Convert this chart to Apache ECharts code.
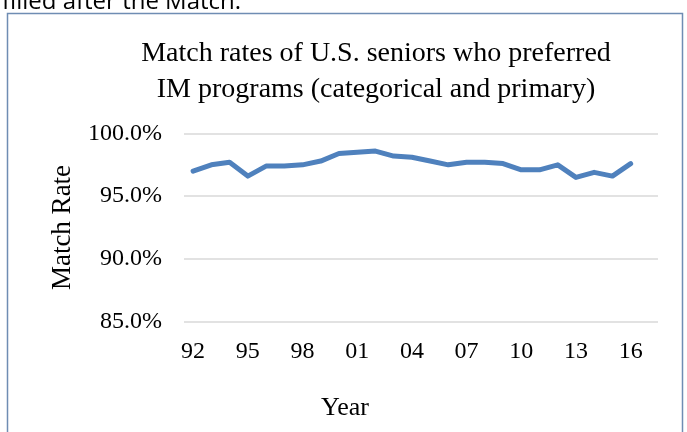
<!DOCTYPE html>
<html>
<head>
<meta charset="utf-8">
<script src="https://cdn.jsdelivr.net/npm/echarts@6/dist/echarts.min.js"></script>
<style>html,body{margin:0;padding:0;background:#fff;}#c{width:687px;height:432px;}</style>
</head>
<body>
<div id="c"></div>
<script>
const years = ['92','93','94','95','96','97','98','99','00','01','02','03','04','05','06','07','08','09','10','11','12','13','14','15','16','17'];
const matchRate = [97.0, 97.5, 97.7, 96.6, 97.4, 97.4, 97.5, 97.8, 98.4, 98.5, 98.6, 98.2, 98.1, 97.8, 97.5, 97.7, 97.7, 97.6, 97.1, 97.1, 97.5, 96.5, 96.9, 96.6, 97.6];
const yTicks = [85, 90, 95, 100];
const titleText = 'Match rates of U.S. seniors who preferred\nIM programs (categorical and primary)';

const serif = '"Liberation Serif", "Times New Roman", serif';
const chart = echarts.init(document.getElementById('c'), null, {renderer: 'canvas'});
chart.setOption({
  animation: false,
  backgroundColor: '#fff',
  title: {
    text: titleText,
    left: 371,
    top: 31,
    textAlign: 'center',
    textStyle: {fontFamily: serif, fontSize: 28, fontWeight: 'normal', color: '#000', lineHeight: 36}
  },
  graphic: [
    {type: 'rect', shape: {x: 7.5, y: 13.5, width: 675, height: 430}, style: {fill: 'none', stroke: '#6f8db3', lineWidth: 1.5}, silent: true},
    {type: 'text', x: 2, y: 14, style: {text: 'filled after the Match.', font: '24px "Open Sans", sans-serif', fill: '#000', textVerticalAlign: 'bottom'}, silent: true},
    {type: 'text', x: 345, y: 408, style: {text: 'Year', font: '26px ' + serif, fill: '#000', textAlign: 'center', textVerticalAlign: 'middle'}, silent: true}
  ],
  grid: {left: 184, right: 29, top: 133.5, bottom: 110.5},
  xAxis: {
    type: 'category',
    data: years,
    boundaryGap: true,
    axisLine: {show: false},
    axisTick: {show: false},
    axisLabel: {interval: 2, margin: 18, fontFamily: serif, fontSize: 24, color: '#000'},
    splitLine: {show: false}
  },
  yAxis: {
    type: 'value',
    min: yTicks[0],
    max: yTicks[yTicks.length - 1],
    interval: 5,
    name: 'Match Rate',
    nameLocation: 'middle',
    nameGap: 108,
    nameTextStyle: {fontFamily: serif, fontSize: 27, color: '#000'},
    axisLine: {show: false},
    axisTick: {show: false},
    axisLabel: {margin: 22, fontFamily: serif, fontSize: 24, color: '#000', formatter: v => v.toFixed(1) + '%'},
    splitLine: {lineStyle: {color: '#d9d9d9', width: 1.5}}
  },
  series: [{
    type: 'line',
    data: matchRate,
    symbol: 'none',
    lineStyle: {color: '#4f81bd', width: 5, join: 'round', cap: 'round'},
    itemStyle: {color: '#4f81bd'}
  }]
});
</script>
</body>
</html>
